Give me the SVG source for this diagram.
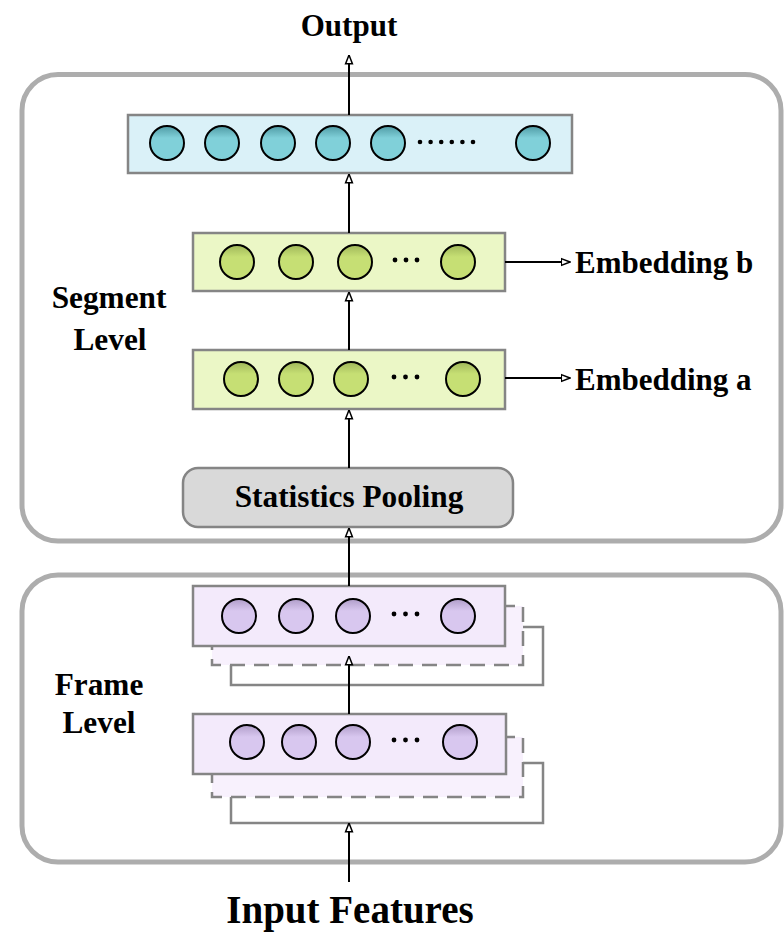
<svg xmlns="http://www.w3.org/2000/svg" width="784" height="934" viewBox="0 0 784 934">
  <style>
    .label { font-family: "Liberation Serif", "Times New Roman", serif; font-weight: bold; fill: #000; }
    .panel { fill: none; stroke: #adadad; stroke-width: 5; }
    .bar { stroke: #858585; stroke-width: 2.5; }
    .unit { stroke: #000; stroke-width: 2; }
    .dot { fill: #000; }
    .edge { stroke: #000; stroke-width: 2; fill: none; marker-end: url(#head); }
    .ghost { fill: #f8f1fd; stroke: #858585; stroke-width: 2.5; stroke-dasharray: 15 9; }
    .back { fill: #fff; stroke: #858585; stroke-width: 2.5; }
  </style>
  <defs>
    <marker id="head" viewBox="0 0 10 10" refX="9.5" refY="5" markerWidth="10" markerHeight="10" orient="auto" markerUnits="userSpaceOnUse">
      <path d="M0.8,1.6 L9.5,5 L0.8,8.4 Z" fill="#fff" stroke="#000" stroke-width="1.5" stroke-linejoin="miter"/>
    </marker>
    <linearGradient id="gBlue" x1="0" y1="0" x2="0" y2="1">
      <stop offset="0" stop-color="#4f9aa4"/>
      <stop offset="0.35" stop-color="#80d0d9"/>
      <stop offset="1" stop-color="#80d0d9"/>
    </linearGradient>
    <linearGradient id="gGreen" x1="0" y1="0" x2="0" y2="1">
      <stop offset="0" stop-color="#a0b75a"/>
      <stop offset="0.35" stop-color="#c6df74"/>
      <stop offset="1" stop-color="#c6df74"/>
    </linearGradient>
    <linearGradient id="gPurple" x1="0" y1="0" x2="0" y2="1">
      <stop offset="0" stop-color="#b09dc9"/>
      <stop offset="0.35" stop-color="#d8c7ef"/>
      <stop offset="1" stop-color="#d8c7ef"/>
    </linearGradient>
  </defs>

  <!-- level panels -->
  <g id="segment-panel">
    <rect class="panel" x="22" y="74.5" width="759" height="466.5" rx="36"/>
    <text class="label" x="109" y="308" font-size="31.3" text-anchor="middle">Segment</text>
    <text class="label" x="110" y="350" font-size="31.3" text-anchor="middle">Level</text>
  </g>
  <g id="frame-panel">
    <rect class="panel" x="22" y="575" width="759" height="287" rx="36"/>
    <text class="label" x="99" y="695" font-size="31.3" text-anchor="middle">Frame</text>
    <text class="label" x="99" y="733" font-size="31.3" text-anchor="middle">Level</text>
  </g>

  <!-- output layer -->
  <g id="output-layer">
    <rect class="bar" x="128" y="115" width="444" height="58" fill="#daf1f8"/>
    <circle class="unit" cx="167" cy="143" r="17" fill="url(#gBlue)"/>
    <circle class="unit" cx="222" cy="143" r="17" fill="url(#gBlue)"/>
    <circle class="unit" cx="278" cy="143" r="17" fill="url(#gBlue)"/>
    <circle class="unit" cx="333" cy="143" r="17" fill="url(#gBlue)"/>
    <circle class="unit" cx="388" cy="143" r="17" fill="url(#gBlue)"/>
    <circle class="unit" cx="533" cy="143" r="17" fill="url(#gBlue)"/>
    <g class="dot">
      <circle cx="420" cy="142" r="2.3"/>
      <circle cx="430.6" cy="142" r="2.3"/>
      <circle cx="441.2" cy="142" r="2.3"/>
      <circle cx="451.8" cy="142" r="2.3"/>
      <circle cx="462.4" cy="142" r="2.3"/>
      <circle cx="473" cy="142" r="2.3"/>
    </g>
  </g>

  <!-- segment embedding layer b -->
  <g id="segment-b">
    <rect class="bar" x="193" y="233" width="312" height="58" fill="#ebf7c6"/>
    <circle class="unit" cx="237" cy="262" r="17" fill="url(#gGreen)"/>
    <circle class="unit" cx="296" cy="262" r="17" fill="url(#gGreen)"/>
    <circle class="unit" cx="355" cy="262" r="17" fill="url(#gGreen)"/>
    <circle class="unit" cx="458" cy="262" r="17" fill="url(#gGreen)"/>
    <g class="dot">
      <circle cx="395" cy="260" r="2.4"/>
      <circle cx="406" cy="260" r="2.4"/>
      <circle cx="417" cy="260" r="2.4"/>
    </g>
  </g>

  <!-- segment embedding layer a -->
  <g id="segment-a">
    <rect class="bar" x="193" y="350" width="312" height="59" fill="#ebf7c6"/>
    <circle class="unit" cx="241" cy="379" r="17" fill="url(#gGreen)"/>
    <circle class="unit" cx="296" cy="379" r="17" fill="url(#gGreen)"/>
    <circle class="unit" cx="351" cy="379" r="17" fill="url(#gGreen)"/>
    <circle class="unit" cx="463" cy="379" r="17" fill="url(#gGreen)"/>
    <g class="dot">
      <circle cx="394" cy="377" r="2.4"/>
      <circle cx="405.5" cy="377" r="2.4"/>
      <circle cx="417" cy="377" r="2.4"/>
    </g>
  </g>

  <!-- pooling -->
  <g id="stats-pooling">
    <rect x="183" y="468" width="330" height="59" rx="15" fill="#d9d9d9" stroke="#858585" stroke-width="2.5"/>
    <text class="label" x="349" y="507" font-size="31.3" text-anchor="middle">Statistics Pooling</text>
  </g>

  <!-- upper frame layer stack -->
  <g id="frame-upper">
    <rect class="back" x="231" y="627" width="312" height="58"/>
    <rect class="ghost" x="212" y="606" width="311" height="59"/>
    <rect class="bar" x="193" y="586" width="312" height="60" fill="#f3eafb"/>
    <circle class="unit" cx="239" cy="616" r="17" fill="url(#gPurple)"/>
    <circle class="unit" cx="296" cy="616" r="17" fill="url(#gPurple)"/>
    <circle class="unit" cx="353" cy="616" r="17" fill="url(#gPurple)"/>
    <circle class="unit" cx="458" cy="616" r="17" fill="url(#gPurple)"/>
    <g class="dot">
      <circle cx="394" cy="614" r="2.4"/>
      <circle cx="405.5" cy="614" r="2.4"/>
      <circle cx="417" cy="614" r="2.4"/>
    </g>
  </g>

  <!-- lower frame layer stack -->
  <g id="frame-lower">
    <rect class="back" x="231" y="763" width="312" height="60"/>
    <rect class="ghost" x="212" y="737" width="311" height="60"/>
    <rect class="bar" x="193" y="714" width="313" height="60" fill="#f3eafb"/>
    <circle class="unit" cx="247" cy="742" r="17" fill="url(#gPurple)"/>
    <circle class="unit" cx="299" cy="742" r="17" fill="url(#gPurple)"/>
    <circle class="unit" cx="353" cy="742" r="17" fill="url(#gPurple)"/>
    <circle class="unit" cx="460" cy="742" r="17" fill="url(#gPurple)"/>
    <g class="dot">
      <circle cx="394" cy="740" r="2.4"/>
      <circle cx="405.5" cy="740" r="2.4"/>
      <circle cx="417" cy="740" r="2.4"/>
    </g>
  </g>

  <!-- end labels -->
  <g id="output-label">
    <text class="label" x="349" y="36" font-size="31" text-anchor="middle">Output</text>
  </g>
  <g id="input-label">
    <text class="label" x="350" y="923" font-size="39" text-anchor="middle">Input Features</text>
  </g>
  <g id="embedding-labels">
    <text class="label" x="575" y="273" font-size="31">Embedding b</text>
    <text class="label" x="575" y="390" font-size="31">Embedding a</text>
  </g>

  <!-- connectors -->
  <g id="connectors">
    <line class="edge" x1="349" y1="882" x2="349" y2="823"/>
    <line class="edge" x1="349" y1="714" x2="349" y2="656"/>
    <line class="edge" x1="349" y1="586" x2="349" y2="528"/>
    <line class="edge" x1="349" y1="468" x2="349" y2="410"/>
    <line class="edge" x1="349" y1="350" x2="349" y2="292"/>
    <line class="edge" x1="349" y1="233" x2="349" y2="174"/>
    <line class="edge" x1="349" y1="115" x2="349" y2="55"/>
    <line class="edge" x1="505" y1="262" x2="570" y2="262"/>
    <line class="edge" x1="505" y1="378" x2="570" y2="378"/>
  </g>
</svg>
